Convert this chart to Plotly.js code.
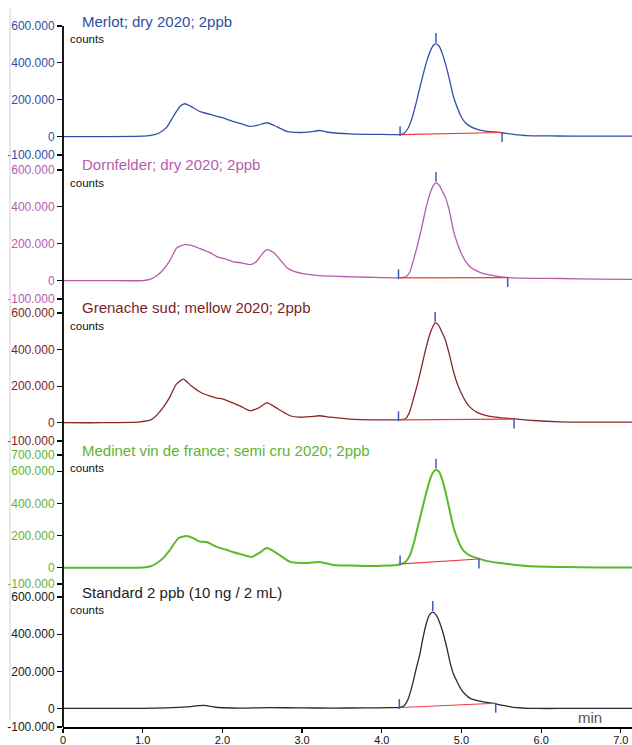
<!DOCTYPE html>
<html>
<head>
<meta charset="utf-8">
<script src="https://cdn.plot.ly/plotly-3.0.1.min.js"></script>
<style>html,body{margin:0;padding:0;background:#fff;}#chart{width:632px;height:745px;}</style>
</head>
<body>
<div id="chart"></div>
<script>
// ---- data ----
const sampleNames = ["Merlot; dry 2020; 2ppb", "Dornfelder; dry 2020; 2ppb", "Grenache sud; mellow 2020; 2ppb", "Medinet vin de france; semi cru 2020; 2ppb", "Standard 2 ppb (10 ng / 2 mL)"];

const merlotT = [0, 0.5, 1.0, 1.1, 1.2, 1.3, 1.4, 1.47, 1.53, 1.6, 1.72, 1.85, 1.93, 2.05, 2.13, 2.25, 2.35, 2.45, 2.56, 2.65, 2.81, 2.97, 3.1, 3.22, 3.35, 3.6, 3.9, 4.1, 4.23, 4.28, 4.33, 4.38, 4.43, 4.48, 4.53, 4.57, 4.61, 4.65, 4.68, 4.72, 4.76, 4.82, 4.86, 4.9, 4.95, 5.0, 5.05, 5.1, 5.19, 5.3, 5.48, 5.65, 5.82, 6.2, 6.6, 7.15];
const merlotV = [0, 0, 2000, 6000, 18000, 50000, 120000, 165000, 178000, 165000, 135000, 120000, 110000, 95000, 82000, 68000, 55000, 62000, 75000, 60000, 28000, 22000, 25000, 33000, 22000, 15000, 12000, 11000, 11000, 18000, 45000, 100000, 180000, 270000, 355000, 416000, 465000, 497000, 503000, 490000, 450000, 362000, 290000, 216000, 155000, 105000, 75000, 58000, 40000, 30000, 22000, 12000, 5000, 3000, 2000, 2000];

const dornT = [0, 0.5, 1.0, 1.1, 1.18, 1.26, 1.34, 1.43, 1.53, 1.6, 1.72, 1.85, 1.93, 2.05, 2.13, 2.25, 2.35, 2.42, 2.5, 2.56, 2.65, 2.73, 2.81, 2.9, 3.01, 3.22, 3.5, 3.8, 4.0, 4.2, 4.3, 4.35, 4.4, 4.45, 4.5, 4.55, 4.6, 4.64, 4.68, 4.72, 4.76, 4.8, 4.85, 4.9, 4.95, 5.0, 5.05, 5.1, 5.15, 5.25, 5.4, 5.6, 5.9, 6.24, 6.7, 7.15];
const dornV = [0, 0, 0, 8000, 27000, 60000, 108000, 178000, 195000, 192000, 173000, 150000, 130000, 115000, 103000, 95000, 86000, 100000, 145000, 168000, 150000, 110000, 70000, 50000, 38000, 27000, 22000, 18000, 16000, 15000, 20000, 45000, 115000, 195000, 285000, 385000, 465000, 510000, 530000, 518000, 485000, 450000, 375000, 270000, 200000, 145000, 105000, 78000, 62000, 42000, 27000, 16000, 12000, 11000, 8000, 6000];

const grenT = [0, 0.5, 0.97, 1.1, 1.18, 1.26, 1.34, 1.42, 1.51, 1.6, 1.72, 1.85, 1.93, 2.0, 2.13, 2.25, 2.35, 2.45, 2.56, 2.7, 2.85, 2.97, 3.1, 3.22, 3.35, 3.6, 3.9, 4.2, 4.3, 4.35, 4.4, 4.45, 4.5, 4.55, 4.6, 4.64, 4.67, 4.71, 4.75, 4.8, 4.85, 4.9, 4.95, 5.0, 5.05, 5.1, 5.2, 5.3, 5.4, 5.55, 5.65, 5.9, 6.24, 6.7, 7.15];
const grenV = [0, 0, 5000, 15000, 43000, 85000, 140000, 210000, 238000, 205000, 168000, 145000, 135000, 130000, 108000, 85000, 65000, 80000, 108000, 75000, 38000, 30000, 33000, 38000, 30000, 20000, 16000, 16000, 22000, 60000, 135000, 215000, 305000, 400000, 480000, 525000, 546000, 535000, 500000, 450000, 370000, 280000, 210000, 160000, 118000, 88000, 55000, 40000, 32000, 25000, 22000, 12000, 5000, 3000, 3000];

const medT = [0, 0.5, 1.0, 1.1, 1.18, 1.26, 1.34, 1.45, 1.55, 1.63, 1.72, 1.8, 1.93, 2.05, 2.13, 2.25, 2.37, 2.47, 2.56, 2.7, 2.85, 3.05, 3.22, 3.39, 3.6, 3.8, 4.0, 4.19, 4.25, 4.3, 4.35, 4.4, 4.45, 4.5, 4.55, 4.6, 4.64, 4.68, 4.72, 4.76, 4.8, 4.85, 4.9, 4.95, 5.0, 5.05, 5.1, 5.19, 5.3, 5.48, 5.65, 5.82, 6.3, 6.7, 7.15];
const medV = [0, 0, 2000, 10000, 30000, 62000, 110000, 185000, 197000, 185000, 163000, 160000, 130000, 112000, 98000, 82000, 68000, 95000, 123000, 85000, 37000, 30000, 37000, 18000, 14000, 12000, 13000, 18000, 25000, 38000, 75000, 150000, 250000, 350000, 450000, 540000, 590000, 609000, 595000, 545000, 470000, 360000, 252000, 180000, 125000, 95000, 78000, 62000, 45000, 30000, 20000, 12000, 5000, 3000, 3000];

const stdT = [0, 0.5, 1.0, 1.3, 1.55, 1.76, 1.95, 2.2, 2.6, 3.0, 3.4, 3.8, 4.1, 4.22, 4.28, 4.33, 4.38, 4.43, 4.48, 4.52, 4.56, 4.6, 4.64, 4.68, 4.72, 4.77, 4.82, 4.86, 4.9, 4.95, 5.0, 5.05, 5.11, 5.2, 5.3, 5.4, 5.5, 5.65, 5.95, 6.3, 6.7, 7.15];
const stdV = [0, 0, 0, 3000, 8000, 16000, 5000, 2000, 4000, 3000, 2000, 3000, 4000, 5000, 15000, 50000, 120000, 210000, 297000, 385000, 459000, 505000, 519000, 505000, 470000, 405000, 320000, 243000, 185000, 140000, 100000, 75000, 54000, 42000, 34000, 27000, 18000, 6000, 0, 0, 0, 0];

// integration: peak start / apex / end (min) and baseline values (counts)
const peakStart = [4.23, 4.21, 4.21, 4.23, 4.22];
const peakApex = [4.68, 4.68, 4.67, 4.68, 4.64];
const peakEnd = [5.51, 5.58, 5.66, 5.22, 5.43];
const baseStartV = [11000, 15000, 16000, 25000, 5000];
const baseEndV = [22000, 16000, 20000, 55000, 28000];

// axis ticks
const yTickVals = [-100000, 0, 200000, 400000, 600000];
const yTickText = ["-100.000", "0", "200.000", "400.000", "600.000"];
const yTickValsMed = [-100000, 0, 200000, 400000, 600000, 700000];
const yTickTextMed = ["-100.000", "0", "200.000", "400.000", "600.000", "700.000"];
const xTickVals = [0, 1, 2, 3, 4, 5, 6, 7];
const xTickText = ["0", "1.0", "2.0", "3.0", "4.0", "5.0", "6.0", "7.0"];

// ---- styling ----
const series = [[merlotT, merlotV], [dornT, dornV], [grenT, grenV], [medT, medV], [stdT, stdV]];
const lineColors = ["#3250a8", "#b55cb0", "#862828", "#5cb82c", "#2a2a2a"];
const labelColors = ["#2f4ea3", "#b55cb0", "#7a1f1f", "#5cb531", "#222222"];
const lineWidths = [1.3, 1.3, 1.3, 2.0, 1.3];
const yMax = [600000, 600000, 600000, 700000, 600000];
const domains = [[0.816, 1.0], [0.6106, 0.7946], [0.408, 0.5906], [0.204, 0.388], [0.0, 0.1854]];
const FONT = "Liberation Sans, Arial, sans-serif";
const markerBlue = "#3a5bb8";

const traces = [];
const layout = {
  width: 632, height: 745,
  margin: {l: 63, r: 0, t: 26, b: 18},
  paper_bgcolor: "#fff", plot_bgcolor: "rgba(0,0,0,0)",
  showlegend: false,
  font: {family: FONT, size: 12, color: "#000"},
  xaxis: {
    range: [0, 7.14], anchor: "free", position: 0,
    showline: true, linecolor: "#000", linewidth: 1.5,
    ticks: "outside", ticklen: 4, tickcolor: "#000", tickwidth: 1.2,
    tickvals: xTickVals, ticktext: xTickText, ticklabelstandoff: -2,
    showgrid: false, zeroline: false,
    tickfont: {family: FONT, size: 11, color: "#111"}
  },
  annotations: [],
  shapes: [
    {type: "line", xref: "paper", yref: "paper", x0: 0, x1: 0, y0: 0, y1: 1.0,
     line: {color: "#000", width: 1.8}},
    {type: "line", xref: "paper", yref: "paper", x0: -53/569, x1: -53/569, y0: 0.01, y1: 1.025,
     line: {color: "#d0d0d0", width: 1}}
  ]
};

series.forEach((s, i) => {
  const yk = i === 0 ? "y" : "y" + (i + 1);
  const lk = i === 0 ? "yaxis" : "yaxis" + (i + 1);
  const isMed = i === 3;
  layout[lk] = {
    domain: domains[i], range: [-100000, yMax[i]], anchor: "x",
    showline: false, showgrid: false, zeroline: false,
    ticks: "outside", ticklen: 5, tickcolor: "#000", tickwidth: 1.2,
    tickvals: isMed ? yTickValsMed : yTickVals,
    ticktext: isMed ? yTickTextMed : yTickText,
    tickfont: {family: FONT, size: 12, color: labelColors[i]}
  };
  // chromatogram
  traces.push({x: s[0], y: s[1], xaxis: "x", yaxis: yk, type: "scatter", mode: "lines",
    line: {color: lineColors[i], width: lineWidths[i], shape: "spline", smoothing: 0.6},
    hoverinfo: "skip", cliponaxis: false});
  // integration baseline
  traces.push({x: [peakStart[i] + 0.02, peakEnd[i]], y: [baseStartV[i], baseEndV[i]], xaxis: "x", yaxis: yk,
    type: "scatter", mode: "lines", line: {color: "#f03a3a", width: 1.2}, hoverinfo: "skip"});
  // integration marks
  const apexV = Math.max(...s[1]);
  const span = yMax[i] + 100000;
  const off = span / 129; // counts per pixel
  traces.push({x: [peakStart[i], peakApex[i], peakEnd[i]],
    y: [baseStartV[i] + 3.5 * off, apexV + 6 * off, baseEndV[i] - 4.5 * off],
    xaxis: "x", yaxis: yk, type: "scatter", mode: "markers",
    marker: {symbol: "line-ns-open", size: 7, color: markerBlue, line: {color: markerBlue, width: 1.5}},
    hoverinfo: "skip", cliponaxis: false});
  // title
  layout.annotations.push({text: sampleNames[i], xref: "paper", yref: "paper",
    x: 17 / 569, y: domains[i][1], xanchor: "left", yanchor: "middle", yshift: 5,
    showarrow: false, font: {family: FONT, size: 15, color: labelColors[i]}});
  layout.annotations.push({text: "counts", xref: "paper", yref: "paper",
    x: 5 / 569, y: domains[i][1], xanchor: "left", yanchor: "middle", yshift: -13,
    showarrow: false, font: {family: FONT, size: 11.5, color: "#111"}});
});

layout.annotations.push({text: "min", xref: "paper", yref: "paper", x: 527 / 569, y: 0,
  xanchor: "center", yanchor: "middle", yshift: 10, showarrow: false,
  font: {family: FONT, size: 15, color: "#555"}});

Plotly.newPlot("chart", traces, layout, {displayModeBar: false, staticPlot: true});
</script>
</body>
</html>
